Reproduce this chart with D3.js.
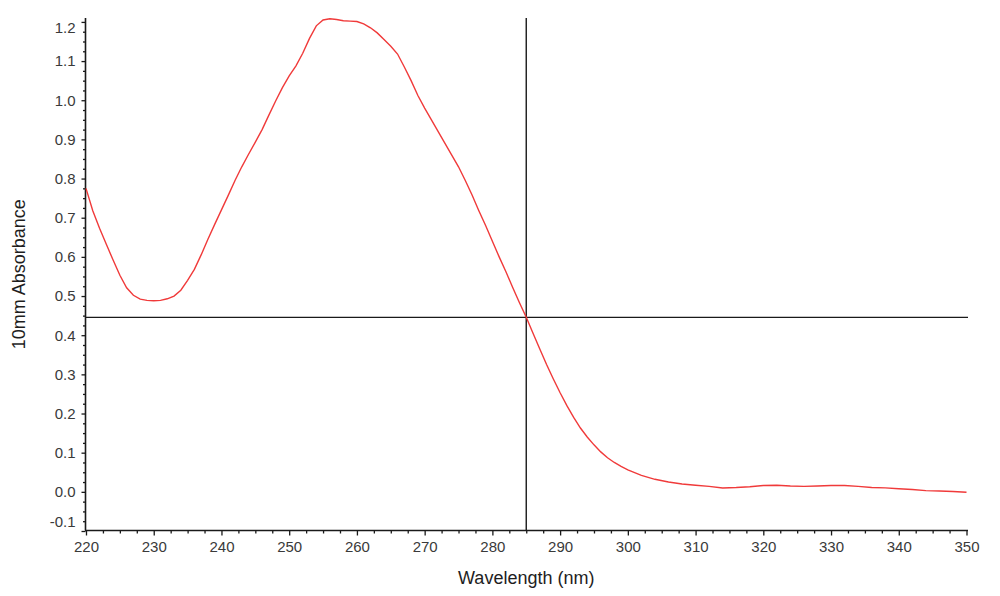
<!DOCTYPE html>
<html>
<head>
<meta charset="utf-8">
<script src="https://cdn.jsdelivr.net/npm/d3@7"></script>
<style>
  html, body { margin: 0; padding: 0; background: #fff; }
  svg { display: block; font-family: "Liberation Sans", Arial, sans-serif; }
</style>
</head>
<body>
<svg id="chart" width="1000" height="596"></svg>
<script>
// ---- data ----
const wavelengths = [220,221,222,223,224,225,226,227,228,229,230,231,232,233,234,235,236,237,238,239,
  240,241,242,243,244,245,246,247,248,249,250,251,252,253,254,255,256,257,258,259,
  260,261,262,263,264,265,266,267,268,269,270,271,272,273,274,275,276,277,278,279,
  280,281,282,283,284,285,286,287,288,289,290,291,292,293,294,295,296,297,298,299,
  300,302,304,306,308,310,312,314,316,318,320,322,324,326,328,330,332,334,336,338,
  340,342,344,346,348,350];
const absorbance = [0.775,0.718,0.673,0.632,0.592,0.553,0.521,0.502,0.492,0.489,0.488,0.489,0.493,0.500,0.515,0.540,0.568,0.605,0.645,0.683,
  0.720,0.757,0.795,0.830,0.862,0.893,0.925,0.962,0.998,1.032,1.062,1.088,1.120,1.158,1.190,1.205,1.208,1.206,1.203,1.202,
  1.201,1.195,1.185,1.172,1.155,1.138,1.118,1.085,1.050,1.012,0.980,0.950,0.920,0.890,0.860,0.830,0.795,0.758,0.718,0.680,
  0.640,0.600,0.562,0.522,0.483,0.446,0.405,0.365,0.325,0.288,0.253,0.220,0.190,0.163,0.140,0.120,0.102,0.087,0.075,0.065,
  0.056,0.042,0.032,0.025,0.020,0.017,0.014,0.010,0.011,0.013,0.016,0.017,0.015,0.014,0.015,0.016,0.016,0.014,0.011,0.010,
  0.008,0.006,0.003,0.002,0.001,-0.001];
const xTickValues = [220,230,240,250,260,270,280,290,300,310,320,330,340,350];
const yTickValues = [-0.1,0.0,0.1,0.2,0.3,0.4,0.5,0.6,0.7,0.8,0.9,1.0,1.1,1.2];
const cursorWavelength = 285;
const cursorAbsorbance = 0.4455;
const xTitle = "Wavelength (nm)";
const yTitle = "10mm Absorbance";

(function () {
// ---- layout ----
const svg = d3.select("#chart");
const pLeft = 86, pRight = 966.5, pTop = 18, pBottom = 530.5;

const x = d3.scaleLinear().domain([220, 350]).range([pLeft, pRight]);
const y = d3.scaleLinear().domain([-0.1, 1.21]).range([531, pTop]);

const axisColor = "#1a1a1a";
const labelColor = "#3a3a3a";
const yFmt = d => d.toFixed(1);

// Minor ticks
const xMinor = d3.range(220, 350.001, 2.5).filter(v => Math.abs(v % 10) > 1e-6);
const yMinor = d3.range(-0.1, 1.2101, 0.025).filter(v => Math.abs(Math.round(v * 10) - v * 10) > 1e-6);

// X axis
const gx = svg.append("g").attr("transform", `translate(0,${pBottom})`);
gx.call(d3.axisBottom(x).tickValues(xTickValues).tickSize(5).tickPadding(6).tickFormat(d3.format("d")));
gx.append("g").call(d3.axisBottom(x).tickValues(xMinor).tickSize(3).tickFormat(""))
  .select(".domain").remove();
gx.selectAll(".domain").attr("d", `M${pLeft - 1},0H${pRight + 1.5}`);
gx.selectAll("line").attr("stroke", axisColor).attr("stroke-width", 1.3);
gx.selectAll(".domain").attr("stroke", axisColor).attr("stroke-width", 1.6);
gx.selectAll("text").attr("fill", labelColor).style("font-size", "15px")
  .style("font-family", "'Liberation Sans', Arial, sans-serif");

// Y axis
const gy = svg.append("g").attr("transform", `translate(${pLeft - 0.5},0)`);
gy.call(d3.axisLeft(y).tickValues(yTickValues).tickSize(4).tickPadding(6).tickFormat(yFmt));
gy.append("g").call(d3.axisLeft(y).tickValues(yMinor).tickSize(2.5).tickFormat(""))
  .select(".domain").remove();
gy.selectAll(".domain").attr("d", `M0,${pTop}V${pBottom}`);
gy.selectAll("line").attr("stroke", axisColor).attr("stroke-width", 1.3);
gy.selectAll(".domain").attr("stroke", axisColor).attr("stroke-width", 1.6);
gy.selectAll("text").attr("fill", labelColor).style("font-size", "15px")
  .style("font-family", "'Liberation Sans', Arial, sans-serif");
// end labels nudged inside the axis range like the original software
gy.selectAll(".tick").filter(d => Math.abs(d - 1.2) < 1e-9).select("text").attr("dy", "0.7em");
gy.selectAll(".tick").filter(d => Math.abs(d + 0.1) < 1e-9).select("text").attr("dy", "-0.28em");

// Cursor crosshair
svg.append("line")
  .attr("x1", x(cursorWavelength)).attr("x2", x(cursorWavelength))
  .attr("y1", pTop).attr("y2", pBottom)
  .attr("stroke", axisColor).attr("stroke-width", 1.4);
svg.append("line")
  .attr("x1", pLeft).attr("x2", pRight + 1.5)
  .attr("y1", y(cursorAbsorbance)).attr("y2", y(cursorAbsorbance))
  .attr("stroke", axisColor).attr("stroke-width", 1.4);

// Spectrum line
const pts = wavelengths.map((w, i) => [w, absorbance[i]]);
svg.append("path")
  .datum(pts)
  .attr("fill", "none")
  .attr("stroke", "#f03a3a")
  .attr("stroke-width", 1.4)
  .attr("d", d3.line().x(d => x(d[0])).y(d => y(d[1])));

// Titles
svg.append("text")
  .attr("x", (pLeft + pRight) / 2).attr("y", 584)
  .attr("text-anchor", "middle")
  .attr("fill", "#1e1e1e")
  .style("font-size", "18px")
  .text(xTitle);
svg.append("text")
  .attr("transform", `translate(25,${(pTop + pBottom) / 2}) rotate(-90)`)
  .attr("text-anchor", "middle")
  .attr("fill", "#1e1e1e")
  .style("font-size", "18px")
  .text(yTitle);
})();
</script>
</body>
</html>
